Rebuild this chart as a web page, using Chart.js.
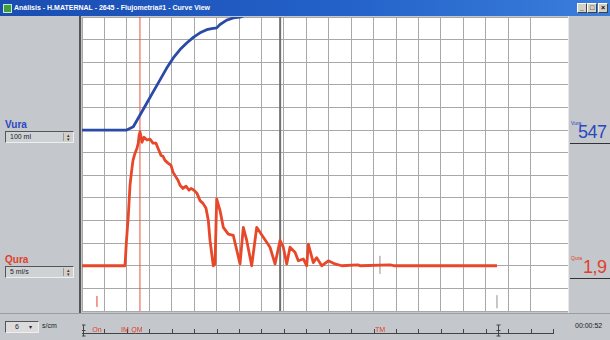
<!DOCTYPE html>
<html><head><meta charset="utf-8">
<script src="https://cdn.jsdelivr.net/npm/chart.js@4/dist/chart.umd.min.js"></script>
<style>
html,body{margin:0;padding:0}
body{width:610px;height:340px;overflow:hidden;background:#c4c7cb;font-family:"Liberation Sans",Arial,sans-serif;position:relative}
.abs{position:absolute}
#title{left:0;top:0;width:610px;height:16px;background:linear-gradient(90deg,#1a4db2 0%,#2361c8 55%,#3a7edc 100%);color:#fff;font-size:7px;font-weight:bold;line-height:16px;white-space:nowrap}
#title .ic{position:absolute;left:3px;top:4px;width:7px;height:7px;background:#3fa040;border:1px solid #d0e8c0}
#title .tx{position:absolute;left:14px;top:0}
.btn{position:absolute;top:3px;width:8px;height:8px;background:#d4d0c8;border:1px solid #fff;border-right-color:#404040;border-bottom-color:#404040;font-size:7px;line-height:8px;text-align:center;color:#000}
#plotbg{left:82px;top:17px;width:486px;height:294px;background:#fff}
#leftedge{left:79px;top:16px;width:2px;height:297px;background:#555}
#rightedge{left:568px;top:16px;width:1px;height:297px;background:#e8e8e8}
#chartwrap{left:82px;top:17px;width:486px;height:323px}
.lbl{font-size:10px;font-weight:bold}
.box{width:67px;height:10px;border:1px solid #555;border-right-color:#eee;border-bottom-color:#eee;background:#cfd2d5;font-size:7px;line-height:10px;color:#222}
.box span.t{position:absolute;left:4px;top:0}
.spin{position:absolute;right:1px;top:1px;width:8px;height:8px;background:#d4d0c8;border-left:1px solid #999;font-size:5px;line-height:4px;text-align:center;color:#333}
.rv{font-size:18px;letter-spacing:-0.5px}
.rs{font-size:5px}
.uline{height:1px;background:#333}
#bot{left:0;top:313px;width:610px;height:1px;background:#9a9da1}
</style>
</head><body>
<div id="title" class="abs"><div class="ic"></div><div class="tx">Análisis - H.MATERNAL - 2645 - Flujometría#1 - Curve View</div>
<div class="btn" style="left:577px">_</div><div class="btn" style="left:587px">□</div><div class="btn" style="left:598px">×</div></div>
<div id="plotbg" class="abs"></div>
<div id="leftedge" class="abs"></div>
<div id="rightedge" class="abs"></div>

<div class="abs lbl" style="left:5px;top:119px;color:#2b48c0">Vura</div>
<div class="abs box" style="left:5px;top:131px"><span class="t">100 ml</span><div class="spin">▴<br>▾</div></div>
<div class="abs lbl" style="left:5px;top:254px;color:#e0402a">Qura</div>
<div class="abs box" style="left:5px;top:266px"><span class="t">5 ml/s</span><div class="spin">▴<br>▾</div></div>

<div class="abs rs" style="left:571px;top:120px;color:#2b48c0">Vura</div>
<div class="abs rv" style="left:578px;top:122px;color:#2b48c0">547</div>
<div class="abs uline" style="left:570px;top:143px;width:40px"></div>
<div class="abs rs" style="left:571px;top:255px;color:#e0402a">Qura</div>
<div class="abs rv" style="left:583px;top:257px;color:#e0402a">1,9</div>
<div class="abs uline" style="left:570px;top:278px;width:40px"></div>

<div id="bot" class="abs"></div>
<div class="abs box" style="left:5px;top:321px;width:32px;height:10px;background:#dcdcdc"><span class="t" style="left:9px">6</span><span class="t" style="left:23px;font-size:6px">▾</span></div>
<div class="abs" style="left:42px;top:322px;font-size:7px;color:#222">s/cm</div>
<div class="abs" style="left:575px;top:322px;font-size:7px;color:#222">00:00:52</div>

<div id="chartwrap" class="abs"><canvas id="c" width="486" height="323"></canvas></div>

<script>
// ---- data (time in s, volume in ml, flow in ml/s) ----
const volTime = [0, 11.96, 13.72, 15.52, 17.31, 19.07, 20.87, 22.66, 24.42, 26.22, 28.01, 29.77, 31.57, 33.36, 34.69, 36.03, 36.92, 38.71, 40.47, 42.27, 47.0, 53.0, 62.0, 75.0, 111.0];
const volume  = [0, 0, 14.7, 66.7, 118.7, 170, 222, 274, 319, 356, 385, 410, 430, 444, 449, 452, 467, 486, 496, 499, 530, 547, 556, 560, 561];

const flowTime = [0, 11.5, 11.9, 12.39, 12.84, 13.29, 13.64, 14.18, 14.71, 15.06, 15.25, 15.52, 16.05, 16.59, 17.39, 18.19, 18.99, 19.8, 20.33, 21.13, 21.67, 22.2, 23.01, 23.81, 24.34, 25.15, 25.68, 26.22, 27.02, 27.82, 28.62, 29.16, 29.96, 30.76, 31.57, 32.37, 33.17, 33.79, 34.24, 35.12, 35.58, 36.03, 36.92, 37.8, 39.14, 40.47, 42.27, 43.15, 44.06, 45.39, 46.73, 48.5, 50.29, 51.63, 52.97, 53.85, 54.76, 55.64, 56.98, 57.86, 59.2, 60.11, 60.54, 61.87, 62.78, 64.12, 65.89, 67.68, 69.47, 73.83, 74.37, 82.39, 83.73, 111.0];
const flow     = [0, 0, 5.6, 11.1, 17.8, 21.1, 23.3, 24.9, 26.0, 27.1, 28.7, 29.6, 27.3, 28.4, 27.8, 28.0, 27.1, 27.1, 26.0, 24.4, 24.2, 23.3, 22.7, 22.2, 20.7, 19.6, 18.9, 17.8, 17.1, 17.6, 16.7, 17.1, 16.7, 16.0, 14.4, 13.8, 12.7, 10.0, 5.6, 0, 0.4, 14.8, 12.2, 8.5, 7.0, 6.7, 0.4, 8.5, 5.6, 0, 8.5, 6.3, 4.1, 0.4, 5.6, 4.1, 0.4, 4.1, 3.0, 1.1, 1.5, 0, 4.8, 0.7, 1.8, 0, 1.1, 0.4, 0, 0.2, 0, 0.2, 0, 0];

// event markers: time, flow-axis extent, label
const markerNames = ["On", "IM", "QM", "Cursor", "TM", "End"];
const markerTimes = [4.0, 11.5, 15.5, 53.0, 79.7, 111.0];
const markerLow   = [-9.1, null, -10, -10, -1.8, -9.4];
const markerHigh  = [-6.7, null, 55, 55, 2.2, -6.5];
const markerLabels= ["On", "IM", "QM", "", "TM", ""];

const timeMax = 130, timeStep = 6;
const flowMin = -10, flowMax = 55, flowStep = 5;
const volMin = -800, volMax = 500;

const pts = (xs, ys) => xs.map((x, i) => ({x, y: ys[i]}));

const markerColors = {On:'#e0402a', QM:'#e4573a', Cursor:'#707070', TM:'#909090', End:'#909090'};
const markerWidths = {On:1, QM:1, Cursor:2, TM:1, End:1};
const markerSets = [];
markerNames.forEach((n, i) => {
  if (markerLow[i] === null) return;
  markerSets.push({
    label: n, yAxisID: 'y',
    data: [{x: markerTimes[i], y: markerLow[i]}, {x: markerTimes[i], y: markerHigh[i]}],
    borderColor: markerColors[n], borderWidth: markerWidths[n], pointRadius: 0
  });
});

const ruler = {
  id: 'ruler',
  afterDraw(chart) {
    const {ctx, scales: {x}} = chart;
    const yb = 316;
    ctx.save();
    ctx.strokeStyle = '#444'; ctx.lineWidth = 1;
    ctx.beginPath();
    ctx.moveTo(x.getPixelForValue(0), yb + 0.5);
    ctx.lineTo(Math.round(x.getPixelForValue(126)) + 1, yb + 0.5);
    for (let t = timeStep; t <= 126; t += timeStep) {
      const px = Math.round(x.getPixelForValue(t)) + 0.5;
      ctx.moveTo(px, yb - 4); ctx.lineTo(px, yb);
    }
    ctx.stroke();
    [0, markerTimes[5]].forEach(t => {
      const px = Math.round(x.getPixelForValue(t)) + 1.5;
      ctx.beginPath();
      ctx.moveTo(px, yb - 8); ctx.lineTo(px, yb + 3);
      ctx.moveTo(px - 2, yb - 8); ctx.lineTo(px + 2, yb - 8);
      ctx.moveTo(px - 2, yb + 3); ctx.lineTo(px + 2, yb + 3);
      ctx.moveTo(px - 2, yb - 2.5); ctx.lineTo(px + 2, yb - 2.5);
      ctx.stroke();
    });
    ctx.fillStyle = '#e0402a';
    ctx.font = '7px "Liberation Sans", Arial, sans-serif';
    ctx.textAlign = 'center'; ctx.textBaseline = 'alphabetic';
    markerLabels.forEach((l, i) => {
      if (!l) return;
      let px = x.getPixelForValue(markerTimes[i]);
      if (l === 'QM') px -= 3;
      ctx.fillText(l, px, yb - 1);
    });
    ctx.restore();
  }
};

new Chart(document.getElementById('c'), {
  type: 'line',
  data: {
    datasets: [
      {label: 'Qura', yAxisID: 'y', data: pts(flowTime, flow), borderColor: '#e8482a', borderWidth: 2.8, pointRadius: 0, tension: 0, borderJoinStyle: 'round'},
      {label: 'Vura', yAxisID: 'y1', data: pts(volTime, volume), borderColor: '#2a4aa8', borderWidth: 2.8, pointRadius: 0, tension: 0, borderJoinStyle: 'round'},
      ...markerSets
    ]
  },
  options: {
    responsive: false, animation: false, devicePixelRatio: 1,
    layout: {padding: {left: 0, right: 0, top: 0, bottom: 29}},
    plugins: {legend: {display: false}, tooltip: {enabled: false}},
    scales: {
      x: {type: 'linear', min: 0, max: timeMax,
          ticks: {display: false, stepSize: timeStep},
          grid: {color: '#a8a8a8', lineWidth: 1, drawTicks: false},
          border: {display: false},
          afterFit: s => { s.height = 0; }},
      y: {type: 'linear', position: 'left', min: flowMin, max: flowMax,
          ticks: {display: false, stepSize: flowStep},
          grid: {color: '#a8a8a8', lineWidth: 1, drawTicks: false},
          border: {display: false},
          afterFit: s => { s.width = 0; }},
      y1: {type: 'linear', display: false, min: volMin, max: volMax}
    }
  },
  plugins: [ruler]
});
</script>
</body></html>
